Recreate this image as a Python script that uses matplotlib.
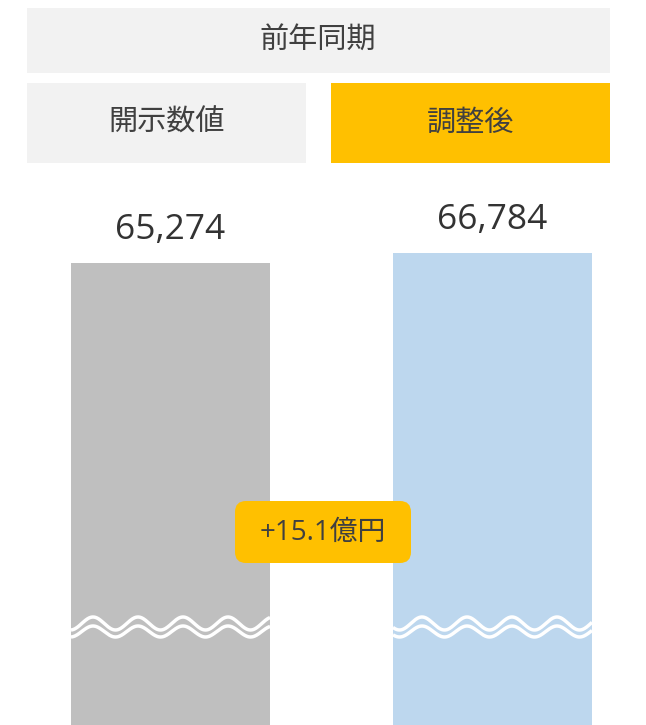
import numpy as np
import matplotlib
matplotlib.use("Agg")
import matplotlib.pyplot as plt
from matplotlib.patches import Rectangle, FancyBboxPatch

# データ
categories = ["開示数値", "調整後"]
values = np.array([65274, 66784])
value_labels = ["65,274", "66,784"]
period_label = "前年同期"
diff_label = "+15.1億円"

W, H = 646, 725
JP = ["Noto Sans CJK JP", "DejaVu Sans"]
NUM = ["Open Sans", "Noto Sans CJK JP", "DejaVu Sans"]
TXT = "#404040"

fig = plt.figure(figsize=(W / 100, H / 100), dpi=100)

# 棒グラフ (波線で省略した縦軸)
ax = fig.add_axes([0, 0, 1, 1])
ax.set_xlim(-0.5295, 1.4767)
floor = -4488
ax.set_ylim(floor, floor + 109475)
ax.axis("off")
x = np.arange(len(values))
bars = ax.bar(x, values - floor, bottom=floor, width=0.618,
              color=["#BFBFBF", "#BDD7EE"])
for xi, v, lab in zip(x, values, value_labels):
    ax.annotate(lab, (xi, v), xytext=(0, 17), textcoords="offset points",
                ha="center", va="baseline", fontsize=25.5, color="#333333",
                family=NUM)

# 見出し・装飾はピクセル座標で
ov = fig.add_axes([0, 0, 1, 1], zorder=3)
ov.set_xlim(0, W)
ov.set_ylim(H, 0)
ov.axis("off")
ov.patch.set_alpha(0)

ov.add_patch(Rectangle((27, 8), 583, 65, color="#F2F2F2", lw=0))
ov.text(318, 41, period_label, ha="center", va="center", fontsize=21,
        color=TXT, family=JP)
head_boxes = [(27, "#F2F2F2"), (331, "#FFC000")]
for (bx, c), cat in zip(head_boxes, categories):
    ov.add_patch(Rectangle((bx, 83), 279, 80, color=c, lw=0))
    ov.text(bx + 139.5, 123, cat, ha="center", va="center", fontsize=21,
            color=TXT, family=JP)

# 波線 (軸の省略記号)
fig.canvas.draw()
for b, phase in zip(bars, [22, 29]):
    bb = b.get_window_extent()
    xs = np.linspace(bb.x0, bb.x1, 300)
    wave = np.cos(2 * np.pi * (xs - bb.x0 - phase) / 45)
    ov.plot(xs, 623.5 - 6.5 * wave, color="white", lw=2.5,
            solid_capstyle="butt")
    ov.plot(xs, 631.5 - 5.5 * wave, color="white", lw=2.5,
            solid_capstyle="butt")

# 差額バッジ
ov.add_patch(FancyBboxPatch((245, 511), 156, 42,
                            boxstyle="round,pad=10,rounding_size=11",
                            color="#FFC000", lw=0))
ov.text(323, 533, diff_label, ha="center", va="center", fontsize=20,
        color=TXT, family=NUM)

fig.savefig("out.png", dpi=100)
